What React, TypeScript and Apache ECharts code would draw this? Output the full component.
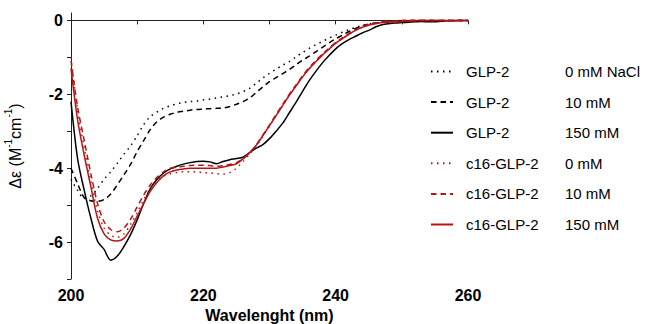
import React, { useEffect, useRef } from "react";
import * as echarts from "echarts";

const wavelengths = Array.from({ length: 61 }, (_, i) => 200 + i);

const glp2_0 = [
  -4.3, -4.6, -4.82, -4.75, -4.55, -4.3, -4.1, -3.87, -3.62, -3.4, -3.12, -2.82, -2.6, -2.48, -2.38, -2.31, -2.26, -2.22, -2.2, -2.18,
  -2.15, -2.13, -2.1, -2.07, -2.04, -1.99, -1.93, -1.84, -1.7, -1.56, -1.43, -1.32, -1.21, -1.11, -0.99, -0.87, -0.76, -0.66, -0.57, -0.48,
  -0.4, -0.32, -0.25, -0.19, -0.14, -0.1, -0.07, -0.05, -0.03, -0.02, -0.01, -0.01, 0, 0, 0, 0, 0, 0, 0, 0, 0,
];
const glp2_10 = [
  -4.0, -4.42, -4.8, -4.88, -4.9, -4.85, -4.7, -4.45, -4.18, -3.9, -3.55, -3.25, -2.95, -2.74, -2.62, -2.54, -2.49, -2.46, -2.43, -2.41,
  -2.4, -2.39, -2.38, -2.37, -2.33, -2.27, -2.2, -2.1, -1.95, -1.8, -1.66, -1.55, -1.44, -1.33, -1.2, -1.08, -0.97, -0.85, -0.73, -0.61,
  -0.5, -0.4, -0.3, -0.22, -0.15, -0.1, -0.07, -0.05, -0.03, -0.02, -0.01, 0, 0, 0, 0, 0, 0, 0, 0, 0, 0,
];
const glp2_150 = [
  -2.2, -3.75, -4.6, -5.35, -5.97, -6.2, -6.49, -6.38, -6.12, -5.8, -5.4, -4.95, -4.55, -4.3, -4.13, -4.02, -3.95, -3.89, -3.85, -3.82,
  -3.81, -3.83, -3.88, -3.82, -3.77, -3.74, -3.7, -3.58, -3.46, -3.36, -3.2, -3.0, -2.78, -2.5, -2.22, -1.92, -1.63, -1.38, -1.15, -0.95,
  -0.77, -0.63, -0.52, -0.43, -0.34, -0.27, -0.18, -0.12, -0.09, -0.07, -0.06, -0.05, -0.04, -0.03, -0.04, -0.04, -0.02, -0.01, -0.01, 0, 0,
];
const c16_0 = [
  -1.0, -2.45, -3.45, -4.35, -5.15, -5.62, -5.82, -5.87, -5.78, -5.52, -5.2, -4.85, -4.55, -4.35, -4.22, -4.15, -4.12, -4.1, -4.1, -4.1,
  -4.12, -4.13, -4.15, -4.16, -4.12, -4.0, -3.82, -3.62, -3.4, -3.14, -2.86, -2.58, -2.3, -2.02, -1.77, -1.52, -1.3, -1.11, -0.93, -0.77,
  -0.61, -0.49, -0.37, -0.26, -0.18, -0.12, -0.08, -0.05, -0.03, -0.02, -0.01, 0, 0, 0, 0, 0, 0, 0, 0, 0, 0,
];
const c16_10 = [
  -1.1, -2.35, -3.25, -4.15, -4.95, -5.45, -5.66, -5.72, -5.62, -5.38, -5.05, -4.72, -4.45, -4.25, -4.1, -4.0, -3.98, -3.95, -3.93, -3.92,
  -3.92, -3.93, -3.95, -3.93, -3.9, -3.85, -3.74, -3.58, -3.37, -3.1, -2.83, -2.55, -2.27, -2.0, -1.75, -1.5, -1.28, -1.09, -0.91, -0.75,
  -0.6, -0.47, -0.35, -0.25, -0.17, -0.11, -0.07, -0.04, -0.02, -0.01, 0, 0, 0, 0, 0, 0, 0, 0, 0, 0, 0,
];
const c16_150 = [
  -1.3, -2.7, -3.65, -4.5, -5.35, -5.78, -5.94, -5.97, -5.9, -5.65, -5.3, -4.95, -4.62, -4.38, -4.2, -4.1, -4.05, -4.02, -4.0, -4.0,
  -4.0, -4.0, -4.0, -3.97, -3.93, -3.88, -3.75, -3.58, -3.38, -3.12, -2.85, -2.58, -2.3, -2.03, -1.78, -1.53, -1.31, -1.12, -0.94, -0.78,
  -0.62, -0.5, -0.38, -0.27, -0.19, -0.13, -0.09, -0.06, -0.05, -0.04, -0.03, -0.02, -0.01, 0, 0, 0, 0, 0, 0, 0, 0,
];

const seriesNames = [
  "GLP-2|0 mM NaCl",
  "GLP-2|10 mM",
  "GLP-2|150 mM",
  "c16-GLP-2|0 mM",
  "c16-GLP-2|10 mM",
  "c16-GLP-2|150 mM",
];
const seriesValues = [glp2_0, glp2_10, glp2_150, c16_0, c16_10, c16_150];

const xTickValues = [200, 210, 220, 230, 240, 250, 260];
const xLabelValues = [200, 220, 240, 260];
const yTickValues = [-7, -6, -5, -4, -3, -2, -1, 0];
const yLabelValues = [-6, -4, -2, 0];

const BLACK = "#000000";
const RED = "#b71515";
const FONT = "'Liberation Sans', Arial, sans-serif";

export default function App() {
  const ref = useRef<HTMLDivElement>(null);
  useEffect(() => {
    if (!ref.current) return;
    const chart = echarts.init(ref.current, undefined, { renderer: "svg" });
    const colors = [BLACK, BLACK, BLACK, RED, RED, RED];
    const types: any[] = [[1.5, 4.5], [5.5, 4], "solid", [1.5, 4.5], [5.5, 4], "solid"];
    chart.setOption({
      animation: false,
      backgroundColor: "#ffffff",
      grid: { left: 71, right: 177, top: 13, bottom: 45, containLabel: false, outerBoundsMode: "none" },
      legend: {
        orient: "vertical",
        left: 425,
        top: 59,
        itemWidth: 22,
        itemHeight: 14,
        itemGap: 15.6,
        data: seriesNames,
        itemStyle: { opacity: 0 },
        formatter: (n: string) => {
          const [a, b] = n.split("|");
          return `{a|${a}}{b|${b}}`;
        },
        textStyle: {
          fontSize: 15,
          color: "#000",
          fontFamily: FONT,
          rich: {
            a: { fontSize: 15, fontFamily: FONT, color: "#000", width: 99, padding: [0, 0, 0, 8] },
            b: { fontSize: 15, fontFamily: FONT, color: "#000" },
          },
        },
      },
      xAxis: {
        type: "value",
        min: 200,
        max: 260,
        interval: 10,
        name: "Wavelenght (nm)",
        nameLocation: "middle",
        nameGap: 26,
        nameTextStyle: { fontSize: 16, fontWeight: "bold", color: "#000", fontFamily: FONT },
        axisLine: { show: true, lineStyle: { color: "#222", width: 1 } },
        axisTick: { show: true, length: 4, inside: false, lineStyle: { color: "#222" }, customValues: xTickValues },
        axisLabel: {
          margin: 8,
          fontSize: 16,
          fontWeight: "bold",
          color: "#000",
          fontFamily: FONT,
          customValues: xLabelValues,
        },
        splitLine: { show: false },
      },
      yAxis: {
        type: "value",
        min: -7,
        max: 0.2,
        interval: 1,
        name: "{t|Δε (M}{s|-1}{t|cm}{s|-1}{t|)}",
        nameLocation: "middle",
        nameGap: 48,
        nameTextStyle: {
          fontSize: 16,
          color: "#000",
          fontFamily: FONT,
          rich: {
            t: { fontSize: 16, fontFamily: FONT, color: "#000", lineHeight: 20, verticalAlign: "bottom" },
            s: { fontSize: 10, fontFamily: FONT, color: "#000", lineHeight: 20, verticalAlign: "top" },
          },
        },
        axisLine: { show: true, lineStyle: { color: "#222", width: 1 } },
        axisTick: { show: true, length: 4, inside: false, lineStyle: { color: "#222" }, customValues: yTickValues },
        axisLabel: {
          margin: 8,
          fontSize: 16,
          fontWeight: "bold",
          color: "#000",
          fontFamily: FONT,
          customValues: yLabelValues,
        },
        splitLine: { show: false },
      },
      series: seriesValues.map((vals, k) => ({
        name: seriesNames[k],
        type: "line",
        symbol: "none",
        smooth: 0.3,
        lineStyle: { color: colors[k], width: 1.5, type: types[k] },
        itemStyle: { color: colors[k] },
        data: wavelengths.map((w, i) => [w, vals[i]]),
        z: k < 3 ? 2 : 3,
      })),
    });
    return () => chart.dispose();
  }, []);
  return (
    <div
      ref={ref}
      style={{ position: "absolute", left: 0, top: 0, width: 645, height: 324 }}
    />
  );
}
